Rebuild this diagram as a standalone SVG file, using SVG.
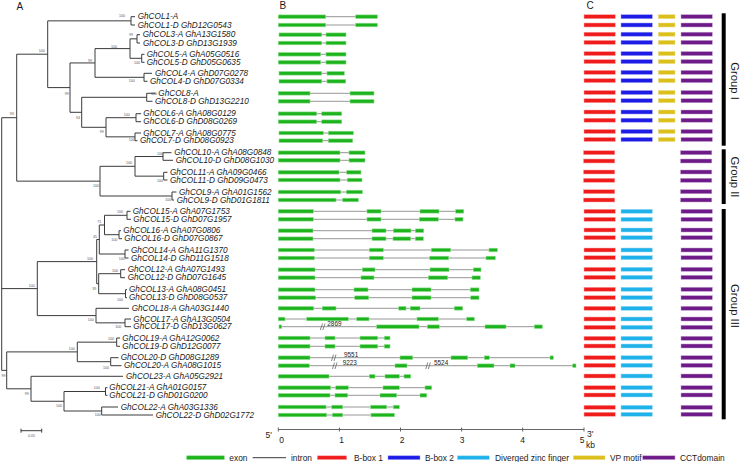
<svg xmlns="http://www.w3.org/2000/svg" xmlns:xlink="http://www.w3.org/1999/xlink" width="740" height="462" viewBox="0 0 740 462">
<style>
text{font-family:"Liberation Sans",Arial,sans-serif;fill:#1a1a1a}
.lb{font-size:8.2px;font-style:italic}
.bs{font-size:3.6px;fill:#555;text-anchor:middle}
.pl{font-size:10px}
.ax{font-size:8.5px}
.lg{font-size:8.4px}
.gr{font-size:11.3px}
.num{font-size:6.4px}
.tr{fill:none;stroke:#3a3a3a;stroke-width:1}
.in{stroke:#8a8a8a;stroke-width:0.9}
.ex{fill:#1cb31c;stroke:#8fe08f;stroke-width:0.6}
.rd{fill:#f01c1c;stroke:#f8a8a8;stroke-width:0.5}
.bl{fill:#1c1ce6;stroke:#9a9af2;stroke-width:0.5}
.cy{fill:#1fb2ea;stroke:#a0dcf4;stroke-width:0.5}
.ye{fill:#dcc01a;stroke:#eedc90;stroke-width:0.5}
.pu{fill:#6e1a88;stroke:#c0a0cc;stroke-width:0.5}
.brk{stroke:#666;stroke-width:0.8;fill:none}
</style>
<defs>
<g id="domI"><rect class="rd" x="584" y="-2" width="31.3" height="4"/><rect class="bl" x="621" y="-2" width="31.3" height="4"/><rect class="ye" x="658.3" y="-2" width="16.7" height="4"/><rect class="pu" x="681" y="-2" width="31.3" height="4"/></g>
<g id="domII"><rect class="rd" x="583.5" y="-2" width="31.3" height="4"/><rect class="pu" x="680.5" y="-2" width="31.3" height="4"/></g>
<g id="domIII"><rect class="rd" x="584" y="-2" width="31.3" height="4"/><rect class="cy" x="621" y="-2" width="31.3" height="4"/><rect class="pu" x="681" y="-2" width="31.3" height="4"/></g>
</defs>
<rect width="740" height="462" fill="#fff"/>
<text class="pl" x="16.5" y="10">A</text>
<text class="pl" x="279.5" y="9">B</text>
<text class="pl" x="586.5" y="9">C</text>

<g id="connectors">
<path class="tr" d="M135 16.7H131V25H135"/>
<path class="tr" d="M140 34.7H137V43H140"/>
<path class="tr" d="M144.5 54.3H141.7V62.3H144.5"/>
<path class="tr" d="M137 38.85H130V58.3H141.7"/>
<path class="tr" d="M152 73.3H144V81.3H147.5"/>
<path class="tr" d="M130 48.6H95V77.3H144"/>
<path class="tr" d="M155.5 93.3H146.7V101.3H152.5"/>
<path class="tr" d="M141 113.7H136V121.7H141"/>
<path class="tr" d="M141 133H135V140.7H137.5"/>
<path class="tr" d="M136 117.7H106V136.85H135"/>
<path class="tr" d="M146.7 97.3H81.7V127.3H106"/>
<path class="tr" d="M95 62.95H70V112.3H81.7"/>
<path class="tr" d="M131 20.85H47.7V87.6H70"/>
<path class="tr" d="M171.5 152.7H163V160.3H173"/>
<path class="tr" d="M167.5 172.3H163.7V180H167.5"/>
<path class="tr" d="M163 156.5H135V176.15H163.7"/>
<path class="tr" d="M176.5 192H172V200H174"/>
<path class="tr" d="M135 166.3H100V196H172"/>
<path class="tr" d="M47.7 54.2H16.7V181.15H100"/>
<path class="tr" d="M130.5 211.3H127V219.3H131"/>
<path class="tr" d="M121 230.7H119V238.7H122"/>
<path class="tr" d="M127 215.3H104.5V234.7H119"/>
<path class="tr" d="M128.5 250H125V258H128.5"/>
<path class="tr" d="M104.5 225H99.3V254H125"/>
<path class="tr" d="M125 269.7H120.7V277.7H125"/>
<path class="tr" d="M127 289.7H125.5V297.7H127"/>
<path class="tr" d="M120.7 273.7H98.7V293.7H125.5"/>
<path class="tr" d="M99.3 239.5H96.7V283.7H98.7"/>
<path class="tr" d="M131 319H125V326.7H131"/>
<path class="tr" d="M129 308.3H96V322.85H125"/>
<path class="tr" d="M96.7 261.6H37.3V315.6H96"/>
<path class="tr" d="M120 338H116.7V346.3H120"/>
<path class="tr" d="M118.5 357.7H110.7V365.7H121.5"/>
<path class="tr" d="M116.7 342.15H77.3V361.7H110.7"/>
<path class="tr" d="M107.5 387.7H105.5V395.3H107.5"/>
<path class="tr" d="M118 407H101.7V415H153"/>
<path class="tr" d="M105.5 391.5H64V411H101.7"/>
<path class="tr" d="M123 376.3H31V401.25H64"/>
<path class="tr" d="M77.3 351.9H6.7V388.8H31"/>
<path class="tr" d="M16.7 117.7H1.7V370.35H6.7M1.7 288.6H37.3"/>
</g>

<g id="bootstrap">
<text class="bs" x="122" y="17">100</text>
<text class="bs" x="131" y="36">99</text>
<text class="bs" x="137" y="64">100</text>
<text class="bs" x="114" y="48">100</text>
<text class="bs" x="131.7" y="82">100</text>
<text class="bs" x="90" y="62">99</text>
<text class="bs" x="154" y="95">100</text>
<text class="bs" x="126.7" y="115.5">100</text>
<text class="bs" x="131.7" y="140.5">100</text>
<text class="bs" x="101.7" y="133">99</text>
<text class="bs" x="78" y="119">94</text>
<text class="bs" x="66.7" y="94.5">99</text>
<text class="bs" x="41.7" y="52">100</text>
<text class="bs" x="160" y="154.5">100</text>
<text class="bs" x="160" y="182">100</text>
<text class="bs" x="129" y="163.5">100</text>
<text class="bs" x="168.3" y="200.5">100</text>
<text class="bs" x="96" y="187">100</text>
<text class="bs" x="11.7" y="115">93</text>
<text class="bs" x="120" y="212.5">100</text>
<text class="bs" x="114.3" y="240.5">100</text>
<text class="bs" x="99.3" y="223">71</text>
<text class="bs" x="121.7" y="259.5">100</text>
<text class="bs" x="95" y="238">45</text>
<text class="bs" x="115" y="272">100</text>
<text class="bs" x="120" y="300.5">100</text>
<text class="bs" x="94.3" y="290">39</text>
<text class="bs" x="90" y="259.5">100</text>
<text class="bs" x="118.3" y="328">100</text>
<text class="bs" x="90.7" y="321">100</text>
<text class="bs" x="31.7" y="287">100</text>
<text class="bs" x="111" y="340">100</text>
<text class="bs" x="106" y="368.5">100</text>
<text class="bs" x="71.7" y="349.5">100</text>
<text class="bs" x="96.7" y="388.5">100</text>
<text class="bs" x="97.7" y="416">100</text>
<text class="bs" x="59" y="407">100</text>
<text class="bs" x="26.7" y="395">99</text>
<text class="bs" x="3.6" y="377">99</text>
</g>

<g id="scalebar">
<path class="tr" d="M21 430.7H41.7M21 428.7V432.7M41.7 428.7V432.7"/>
<text class="bs" x="31.5" y="437">0.05</text>
</g>

<g id="GhCOL1-A"><text class="lb" x="137.7" y="19.2">GhCOL1-A</text>
<line class="in" x1="278.3" y1="16.7" x2="377.3" y2="16.7"/><rect class="ex" x="278.3" y="14.9" width="47.4" height="3.6"/><rect class="ex" x="355.7" y="14.9" width="21.6" height="3.6"/>
<use href="#domI" y="16.7"/></g>
<g id="GhCOL1-D"><text class="lb" x="137.7" y="27.5">GhCOL1-D GhD12G0543</text>
<line class="in" x1="278.3" y1="25" x2="377.3" y2="25"/><rect class="ex" x="278.3" y="23.2" width="47.4" height="3.6"/><rect class="ex" x="355.7" y="23.2" width="21.6" height="3.6"/>
<use href="#domI" y="25"/></g>
<g id="GhCOL3-A"><text class="lb" x="142.7" y="37.2">GhCOL3-A GhA13G1580</text>
<line class="in" x1="279" y1="34.7" x2="346" y2="34.7"/><rect class="ex" x="279" y="32.9" width="42.7" height="3.6"/><rect class="ex" x="326" y="32.9" width="20" height="3.6"/>
<use href="#domI" y="34.2"/></g>
<g id="GhCOL3-D"><text class="lb" x="143" y="45.5">GhCOL3-D GhD13G1939</text>
<line class="in" x1="278.3" y1="43" x2="346" y2="43"/><rect class="ex" x="278.3" y="41.2" width="43.4" height="3.6"/><rect class="ex" x="326" y="41.2" width="20" height="3.6"/>
<use href="#domI" y="42.4"/></g>
<g id="GhCOL5-A"><text class="lb" x="146.7" y="56.8">GhCOL5-A GhA05G0516</text>
<line class="in" x1="278.3" y1="54.3" x2="346" y2="54.3"/><rect class="ex" x="278.3" y="52.5" width="42.4" height="3.6"/><rect class="ex" x="326" y="52.5" width="20" height="3.6"/>
<use href="#domI" y="53.6"/></g>
<g id="GhCOL5-D"><text class="lb" x="146.7" y="64.8">GhCOL5-D GhD05G0635</text>
<line class="in" x1="278.3" y1="62.3" x2="346" y2="62.3"/><rect class="ex" x="278.3" y="60.5" width="42.4" height="3.6"/><rect class="ex" x="326" y="60.5" width="20" height="3.6"/>
<use href="#domI" y="61.6"/></g>
<g id="GhCOL4-A"><text class="lb" x="155" y="75.8">GhCOL4-A GhD07G0278</text>
<line class="in" x1="279" y1="73.3" x2="344.3" y2="73.3"/><rect class="ex" x="279" y="71.5" width="42.7" height="3.6"/><rect class="ex" x="327" y="71.5" width="17.3" height="3.6"/>
<use href="#domI" y="72.4"/></g>
<g id="GhCOL4-D"><text class="lb" x="150" y="83.8">GhCOL4-D GhD07G0334</text>
<line class="in" x1="279" y1="81.3" x2="345.7" y2="81.3"/><rect class="ex" x="279" y="79.5" width="42.7" height="3.6"/><rect class="ex" x="327" y="79.5" width="18.7" height="3.6"/>
<use href="#domI" y="80.6"/></g>
<g id="GhCOL8-A"><text class="lb" x="158.3" y="95.8">GhCOL8-A</text>
<line class="in" x1="278.3" y1="93.3" x2="374" y2="93.3"/><rect class="ex" x="278.3" y="91.5" width="31.7" height="3.6"/><rect class="ex" x="350" y="91.5" width="24" height="3.6"/>
<use href="#domI" y="92.5"/></g>
<g id="GhCOL8-D"><text class="lb" x="155" y="103.8">GhCOL8-D GhD13G2210</text>
<line class="in" x1="278.3" y1="101.3" x2="374" y2="101.3"/><rect class="ex" x="278.3" y="99.5" width="31.7" height="3.6"/><rect class="ex" x="350" y="99.5" width="24" height="3.6"/>
<use href="#domI" y="100.7"/></g>
<g id="GhCOL6-A"><text class="lb" x="143.3" y="116.2">GhCOL6-A GhA08G0129</text>
<line class="in" x1="278.3" y1="113.7" x2="341.7" y2="113.7"/><rect class="ex" x="278.3" y="111.9" width="38.4" height="3.6"/><rect class="ex" x="321.7" y="111.9" width="20" height="3.6"/>
<use href="#domI" y="112"/></g>
<g id="GhCOL6-D"><text class="lb" x="143.3" y="124.2">GhCOL6-D GhD08G0269</text>
<line class="in" x1="278.3" y1="121.7" x2="341.7" y2="121.7"/><rect class="ex" x="278.3" y="119.9" width="38.4" height="3.6"/><rect class="ex" x="321.7" y="119.9" width="20" height="3.6"/>
<use href="#domI" y="120.2"/></g>
<g id="GhCOL7-A"><text class="lb" x="143.3" y="135.5">GhCOL7-A GhA08G0775</text>
<line class="in" x1="279" y1="133" x2="353.3" y2="133"/><rect class="ex" x="279" y="131.2" width="44.3" height="3.6"/><rect class="ex" x="328.3" y="131.2" width="25" height="3.6"/>
<use href="#domI" y="131.5"/></g>
<g id="GhCOL7-D"><text class="lb" x="140" y="143.2">GhCOL7-D GhD08G0923</text>
<line class="in" x1="279" y1="140.7" x2="352.7" y2="140.7"/><rect class="ex" x="279" y="138.9" width="43.7" height="3.6"/><rect class="ex" x="328.3" y="138.9" width="24.4" height="3.6"/>
<use href="#domI" y="139.5"/></g>
<g id="GhCOL10-A"><text class="lb" x="174.3" y="155.2">GhCOL10-A GhA08G0848</text>
<line class="in" x1="278.3" y1="152.7" x2="365" y2="152.7"/><rect class="ex" x="278.3" y="150.9" width="61.7" height="3.6"/><rect class="ex" x="349" y="150.9" width="16" height="3.6"/>
<use href="#domII" y="152.7"/></g>
<g id="GhCOL10-D"><text class="lb" x="175.7" y="162.8">GhCOL10-D GhD08G1030</text>
<line class="in" x1="278.3" y1="160.3" x2="365" y2="160.3"/><rect class="ex" x="278.3" y="158.5" width="61.7" height="3.6"/><rect class="ex" x="349" y="158.5" width="16" height="3.6"/>
<use href="#domII" y="161"/></g>
<g id="GhCOL11-A"><text class="lb" x="170" y="174.8">GhCOL11-A GhA09G0466</text>
<line class="in" x1="278.3" y1="172.3" x2="361" y2="172.3"/><rect class="ex" x="278.3" y="170.5" width="60.7" height="3.6"/><rect class="ex" x="346.7" y="170.5" width="14.3" height="3.6"/>
<use href="#domII" y="172"/></g>
<g id="GhCOL11-D"><text class="lb" x="170" y="182.5">GhCOL11-D GhD09G0473</text>
<line class="in" x1="278.3" y1="180" x2="362" y2="180"/><rect class="ex" x="278.3" y="178.2" width="61.7" height="3.6"/><rect class="ex" x="347.3" y="178.2" width="14.7" height="3.6"/>
<use href="#domII" y="180.3"/></g>
<g id="GhCOL9-A"><text class="lb" x="179" y="194.5">GhCOL9-A GhA01G1562</text>
<line class="in" x1="278.3" y1="192" x2="362.3" y2="192"/><rect class="ex" x="278.3" y="190.2" width="62.4" height="3.6"/><rect class="ex" x="346.3" y="190.2" width="16" height="3.6"/>
<use href="#domII" y="191.7"/></g>
<g id="GhCOL9-D"><text class="lb" x="176.7" y="202.5">GhCOL9-D GhD01G1811</text>
<line class="in" x1="278.3" y1="200" x2="358.3" y2="200"/><rect class="ex" x="278.3" y="198.2" width="57.7" height="3.6"/><rect class="ex" x="342.7" y="198.2" width="15.6" height="3.6"/>
<use href="#domII" y="200"/></g>
<g id="GhCOL15-A"><text class="lb" x="132.7" y="213.8">GhCOL15-A GhA07G1753</text>
<line class="in" x1="278.3" y1="211.3" x2="463.7" y2="211.3"/><rect class="ex" x="278.3" y="209.5" width="35" height="3.6"/><rect class="ex" x="367" y="209.5" width="14" height="3.6"/><rect class="ex" x="420" y="209.5" width="19" height="3.6"/><rect class="ex" x="455.7" y="209.5" width="8" height="3.6"/>
<use href="#domIII" y="211.3"/></g>
<g id="GhCOL15-D"><text class="lb" x="133.3" y="221.8">GhCOL15-D GhD07G1957</text>
<line class="in" x1="278.3" y1="219.3" x2="463" y2="219.3"/><rect class="ex" x="278.3" y="217.5" width="35" height="3.6"/><rect class="ex" x="367" y="217.5" width="14" height="3.6"/><rect class="ex" x="419.3" y="217.5" width="19" height="3.6"/><rect class="ex" x="455" y="217.5" width="8" height="3.6"/>
<use href="#domIII" y="219.3"/></g>
<g id="GhCOL16-A"><text class="lb" x="123.3" y="233.2">GhCOL16-A GhA07G0806</text>
<line class="in" x1="278.3" y1="230.7" x2="423.7" y2="230.7"/><rect class="ex" x="278.3" y="228.9" width="34.7" height="3.6"/><rect class="ex" x="372" y="228.9" width="14" height="3.6"/><rect class="ex" x="393.3" y="228.9" width="17.7" height="3.6"/><rect class="ex" x="415.3" y="228.9" width="8.4" height="3.6"/>
<use href="#domIII" y="230"/></g>
<g id="GhCOL16-D"><text class="lb" x="124.3" y="241.2">GhCOL16-D GhD07G0867</text>
<line class="in" x1="278.3" y1="238.7" x2="423.3" y2="238.7"/><rect class="ex" x="278.3" y="236.9" width="34.7" height="3.6"/><rect class="ex" x="372" y="236.9" width="14" height="3.6"/><rect class="ex" x="393" y="236.9" width="17.7" height="3.6"/><rect class="ex" x="415.3" y="236.9" width="8" height="3.6"/>
<use href="#domIII" y="237.7"/></g>
<g id="GhCOL14-A"><text class="lb" x="131" y="252.5">GhCOL14-A GhA11G1370</text>
<line class="in" x1="278.3" y1="250" x2="497.3" y2="250"/><rect class="ex" x="278.3" y="248.2" width="36" height="3.6"/><rect class="ex" x="369.3" y="248.2" width="14" height="3.6"/><rect class="ex" x="431.3" y="248.2" width="19.4" height="3.6"/><rect class="ex" x="489" y="248.2" width="8.3" height="3.6"/>
<use href="#domIII" y="250"/></g>
<g id="GhCOL14-D"><text class="lb" x="131" y="260.5">GhCOL14-D GhD11G1518</text>
<line class="in" x1="278.3" y1="258" x2="495.3" y2="258"/><rect class="ex" x="278.3" y="256.2" width="36" height="3.6"/><rect class="ex" x="369.3" y="256.2" width="14" height="3.6"/><rect class="ex" x="429.7" y="256.2" width="19" height="3.6"/><rect class="ex" x="486" y="256.2" width="9.3" height="3.6"/>
<use href="#domIII" y="257.7"/></g>
<g id="GhCOL12-A"><text class="lb" x="127.7" y="272.2">GhCOL12-A GhA07G1493</text>
<line class="in" x1="278.3" y1="269.7" x2="481" y2="269.7"/><rect class="ex" x="278.3" y="267.9" width="36.7" height="3.6"/><rect class="ex" x="362.3" y="267.9" width="12.7" height="3.6"/><rect class="ex" x="430" y="267.9" width="19" height="3.6"/><rect class="ex" x="473.3" y="267.9" width="7.7" height="3.6"/>
<use href="#domIII" y="269.3"/></g>
<g id="GhCOL12-D"><text class="lb" x="127.7" y="280.2">GhCOL12-D GhD07G1645</text>
<line class="in" x1="278.3" y1="277.7" x2="480.3" y2="277.7"/><rect class="ex" x="278.3" y="275.9" width="36.7" height="3.6"/><rect class="ex" x="361" y="275.9" width="13" height="3.6"/><rect class="ex" x="428.3" y="275.9" width="19.4" height="3.6"/><rect class="ex" x="472" y="275.9" width="8.3" height="3.6"/>
<use href="#domIII" y="277.3"/></g>
<g id="GhCOL13-A"><text class="lb" x="129" y="292.2">GhCOL13-A GhA08G0451</text>
<line class="in" x1="278.3" y1="289.7" x2="479" y2="289.7"/><rect class="ex" x="278.3" y="287.9" width="36.7" height="3.6"/><rect class="ex" x="354" y="287.9" width="14" height="3.6"/><rect class="ex" x="412" y="287.9" width="19" height="3.6"/><rect class="ex" x="470.3" y="287.9" width="8.7" height="3.6"/>
<use href="#domIII" y="289.3"/></g>
<g id="GhCOL13-D"><text class="lb" x="129" y="300.2">GhCOL13-D GhD08G0537</text>
<line class="in" x1="278.3" y1="297.7" x2="479" y2="297.7"/><rect class="ex" x="278.3" y="295.9" width="37.4" height="3.6"/><rect class="ex" x="354.7" y="295.9" width="14" height="3.6"/><rect class="ex" x="412" y="295.9" width="19" height="3.6"/><rect class="ex" x="470.7" y="295.9" width="8.3" height="3.6"/>
<use href="#domIII" y="297.7"/></g>
<g id="GhCOL18-A"><text class="lb" x="131.7" y="310.8">GhCOL18-A GhA03G1440</text>
<line class="in" x1="278.3" y1="308.3" x2="462.7" y2="308.3"/><rect class="ex" x="278.3" y="306.5" width="35.4" height="3.6"/><rect class="ex" x="322.3" y="306.5" width="13.7" height="3.6"/><rect class="ex" x="398.7" y="306.5" width="7.3" height="3.6"/><rect class="ex" x="410.3" y="306.5" width="9.7" height="3.6"/><rect class="ex" x="454.3" y="306.5" width="8.4" height="3.6"/>
<use href="#domIII" y="308.3"/></g>
<g id="GhCOL17-A"><text class="lb" x="133.3" y="321.5">GhCOL17-A GhA13G0504</text>
<line class="in" x1="278.3" y1="319" x2="474.3" y2="319"/><rect class="ex" x="278.3" y="317.2" width="6.7" height="3.6"/><rect class="ex" x="306.7" y="317.2" width="41.6" height="3.6"/><rect class="ex" x="356.7" y="317.2" width="12.3" height="3.6"/><rect class="ex" x="417" y="317.2" width="21.3" height="3.6"/><rect class="ex" x="466.7" y="317.2" width="7.6" height="3.6"/>
<use href="#domIII" y="319"/></g>
<g id="GhCOL17-D"><text class="lb" x="133.3" y="329.2">GhCOL17-D GhD13G0627</text>
<line class="in" x1="279" y1="326.7" x2="542.3" y2="326.7"/><path class="brk" d="M320.3 330L322.5 323.5M322.8 330L325 323.5"/><text class="num" x="327.3" y="326.2">2869</text><rect class="ex" x="279" y="324.9" width="2.7" height="3.6"/><rect class="ex" x="376.7" y="324.9" width="42.3" height="3.6"/><rect class="ex" x="427.3" y="324.9" width="12" height="3.6"/><rect class="ex" x="485" y="324.9" width="21" height="3.6"/><rect class="ex" x="534.3" y="324.9" width="8" height="3.6"/>
<use href="#domIII" y="327.3"/></g>
<g id="GhCOL19-A"><text class="lb" x="122.3" y="340.5">GhCOL19-A GhA12G0062</text>
<line class="in" x1="278.3" y1="338" x2="390" y2="338"/><rect class="ex" x="278.3" y="336.2" width="31.7" height="3.6"/><rect class="ex" x="325" y="336.2" width="10" height="3.6"/><rect class="ex" x="360" y="336.2" width="17.7" height="3.6"/><rect class="ex" x="384.3" y="336.2" width="5.7" height="3.6"/>
<use href="#domIII" y="338.3"/></g>
<g id="GhCOL19-D"><text class="lb" x="122.3" y="348.8">GhCOL19-D GhD12G0077</text>
<line class="in" x1="278.3" y1="346.3" x2="390" y2="346.3"/><rect class="ex" x="278.3" y="344.5" width="31.7" height="3.6"/><rect class="ex" x="325" y="344.5" width="10" height="3.6"/><rect class="ex" x="360" y="344.5" width="17.7" height="3.6"/><rect class="ex" x="384.3" y="344.5" width="5.7" height="3.6"/>
<use href="#domIII" y="346"/></g>
<g id="GhCOL20-D"><text class="lb" x="120.7" y="360.2">GhCOL20-D GhD08G1289</text>
<line class="in" x1="278.3" y1="357.7" x2="553.3" y2="357.7"/><path class="brk" d="M331.5 361L333.5 354.5M334 361L336 354.5"/><text class="num" x="344" y="356.8">9551</text><rect class="ex" x="278.3" y="355.9" width="31.7" height="3.6"/><rect class="ex" x="400" y="355.9" width="12.7" height="3.6"/><rect class="ex" x="451" y="355.9" width="16.7" height="3.6"/><rect class="ex" x="484.3" y="355.9" width="5" height="3.6"/><rect class="ex" x="550" y="355.9" width="3.3" height="3.6"/>
<use href="#domIII" y="357.7"/></g>
<g id="GhCOL20-A"><text class="lb" x="124" y="368.2">GhCOL20-A GhA08G1015</text>
<line class="in" x1="278.3" y1="365.7" x2="576" y2="365.7"/><path class="brk" d="M332.5 369L334.5 362.5M335 369L337 362.5M425.8 369L427.8 362.5M428.3 369L430.3 362.5"/><text class="num" x="342.7" y="364.8">9223</text><text class="num" x="434" y="364.8">5524</text><rect class="ex" x="278.3" y="363.9" width="31" height="3.6"/><rect class="ex" x="395" y="363.9" width="12" height="3.6"/><rect class="ex" x="477.3" y="363.9" width="16.7" height="3.6"/><rect class="ex" x="510" y="363.9" width="5" height="3.6"/><rect class="ex" x="572.7" y="363.9" width="3.3" height="3.6"/>
<use href="#domIII" y="365.3"/></g>
<g id="GhCOL23-A"><text class="lb" x="126" y="378.8">GhCOL23-A GhA05G2921</text>
<line class="in" x1="278.3" y1="376.3" x2="410.7" y2="376.3"/><rect class="ex" x="278.3" y="374.5" width="50.7" height="3.6"/><rect class="ex" x="369.3" y="374.5" width="5.7" height="3.6"/><rect class="ex" x="385" y="374.5" width="14.3" height="3.6"/><rect class="ex" x="404" y="374.5" width="6.7" height="3.6"/>
<use href="#domIII" y="376"/></g>
<g id="GhCOL21-A"><text class="lb" x="109.3" y="390.2">GhCOL21-A GhA01G0157</text>
<line class="in" x1="278.3" y1="387.7" x2="431.7" y2="387.7"/><rect class="ex" x="278.3" y="385.9" width="52.4" height="3.6"/><rect class="ex" x="335.7" y="385.9" width="12.6" height="3.6"/><rect class="ex" x="383" y="385.9" width="16.3" height="3.6"/><rect class="ex" x="425" y="385.9" width="6.7" height="3.6"/>
<use href="#domIII" y="387.7"/></g>
<g id="GhCOL21-D"><text class="lb" x="109.3" y="397.8">GhCOL21-D GhD01G0200</text>
<line class="in" x1="278.3" y1="395.3" x2="426.7" y2="395.3"/><rect class="ex" x="278.3" y="393.5" width="51.7" height="3.6"/><rect class="ex" x="335" y="393.5" width="12.7" height="3.6"/><rect class="ex" x="380" y="393.5" width="16.7" height="3.6"/><rect class="ex" x="420" y="393.5" width="6.7" height="3.6"/>
<use href="#domIII" y="395"/></g>
<g id="GhCOL22-A"><text class="lb" x="120.7" y="409.5">GhCOL22-A GhA03G1336</text>
<line class="in" x1="278.3" y1="407" x2="399.3" y2="407"/><rect class="ex" x="278.3" y="405.2" width="47.7" height="3.6"/><rect class="ex" x="331.7" y="405.2" width="11" height="3.6"/><rect class="ex" x="370.7" y="405.2" width="16" height="3.6"/><rect class="ex" x="393.3" y="405.2" width="6" height="3.6"/>
<use href="#domIII" y="407.3"/></g>
<g id="GhCOL22-D"><text class="lb" x="155.7" y="417.5">GhCOL22-D GhD02G1772</text>
<line class="in" x1="278.3" y1="415" x2="394.3" y2="415"/><rect class="ex" x="278.3" y="413.2" width="48.4" height="3.6"/><rect class="ex" x="332.3" y="413.2" width="10.4" height="3.6"/><rect class="ex" x="371" y="413.2" width="23.3" height="3.6"/>
<use href="#domIII" y="414.3"/></g>

<g id="axis">
<path d="M278.3 429.5H584M278.3 427.5V431.5M339.4 427.5V431.5M400.5 427.5V431.5M461.6 427.5V431.5M522.7 427.5V431.5M584 427.5V431.5" stroke="#555" stroke-width="0.9" fill="none"/>
<text class="ax" x="265.5" y="437.5">5'</text>
<text class="ax" x="281.7" y="443" text-anchor="middle">0</text>
<text class="ax" x="341.5" y="443" text-anchor="middle">1</text>
<text class="ax" x="402" y="443" text-anchor="middle">2</text>
<text class="ax" x="462" y="443" text-anchor="middle">3</text>
<text class="ax" x="522.5" y="443" text-anchor="middle">4</text>
<text class="ax" x="582" y="443" text-anchor="middle">5</text>
<text class="ax" x="587" y="437">3'</text>
<text class="ax" x="586" y="447.5">kb</text>
</g>

<g id="groups">
<rect x="721.7" y="13.3" width="4" height="132.4" fill="#000"/>
<rect x="721.7" y="149.3" width="4" height="54.7" fill="#000"/>
<rect x="721.7" y="209" width="4" height="210.3" fill="#000"/>
<text class="gr" transform="translate(731,81) rotate(90)" text-anchor="middle">Group I</text>
<text class="gr" transform="translate(731,177) rotate(90)" text-anchor="middle">Group II</text>
<text class="gr" transform="translate(731,306) rotate(90)" text-anchor="middle">Group III</text>
</g>

<g id="legend">
<rect class="ex" x="186.7" y="455.8" width="37.6" height="3.8"/><text class="lg" x="229.3" y="460.6">exon</text>
<line x1="252.7" y1="457.7" x2="286" y2="457.7" stroke="#222" stroke-width="0.9"/><text class="lg" x="291" y="460.6">intron</text>
<rect class="rd" x="317.3" y="455.8" width="29.4" height="3.8"/><text class="lg" x="354" y="460.6">B-box 1</text>
<rect class="bl" x="388" y="455.8" width="32" height="3.8"/><text class="lg" x="425" y="460.6">B-box 2</text>
<rect class="cy" x="457.3" y="455.8" width="32" height="3.8"/><text class="lg" x="495" y="460.6">Diverged zinc finger</text>
<rect class="ye" x="573.3" y="455.8" width="31.7" height="3.8"/><text class="lg" x="610" y="460.6">VP motif</text>
<rect class="pu" x="642.7" y="455.8" width="32.3" height="3.8"/><text class="lg" x="680" y="460.6">CCTdomain</text>
</g>
</svg>
